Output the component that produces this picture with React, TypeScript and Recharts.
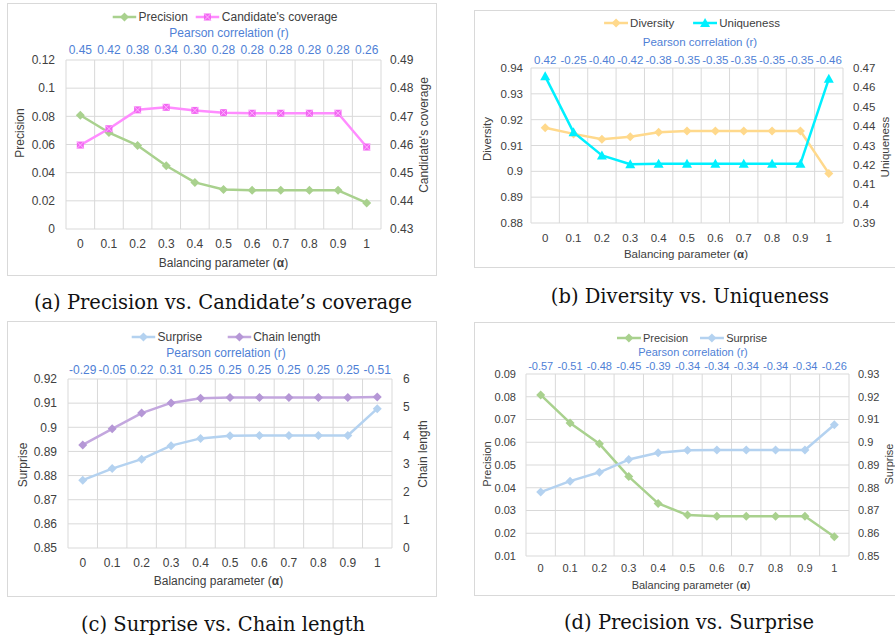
import React from 'react';
import { LineChart, Line, XAxis, YAxis, CartesianGrid, Legend } from 'recharts';

// ---------- data ----------
const ALPHA = ['0', '0.1', '0.2', '0.3', '0.4', '0.5', '0.6', '0.7', '0.8', '0.9', '1'];

const PEARSON_A = ['0.45', '0.42', '0.38', '0.34', '0.30', '0.28', '0.28', '0.28', '0.28', '0.28', '0.26'];
const PEARSON_B = ['0.42', '-0.25', '-0.40', '-0.42', '-0.38', '-0.35', '-0.35', '-0.35', '-0.35', '-0.35', '-0.46'];
const PEARSON_C = ['-0.29', '-0.05', '0.22', '0.31', '0.25', '0.25', '0.25', '0.25', '0.25', '0.25', '-0.51'];
const PEARSON_D = ['-0.57', '-0.51', '-0.48', '-0.45', '-0.39', '-0.34', '-0.34', '-0.34', '-0.34', '-0.34', '-0.26'];

const PRECISION = [0.0808, 0.0685, 0.0593, 0.0449, 0.0331, 0.028, 0.0275, 0.0275, 0.0275, 0.0275, 0.0185];
const COVERAGE = [0.4598, 0.4656, 0.4723, 0.4732, 0.4721, 0.4713, 0.4711, 0.4711, 0.4711, 0.4711, 0.4591];
const DIVERSITY = [0.9169, 0.9145, 0.9124, 0.9134, 0.9151, 0.9156, 0.9156, 0.9156, 0.9156, 0.9156, 0.8992];
const UNIQUENESS = [0.4657, 0.4368, 0.4249, 0.4203, 0.4206, 0.4206, 0.4206, 0.4206, 0.4206, 0.4206, 0.4644];
const SURPRISE = [0.8781, 0.8829, 0.8868, 0.8924, 0.8954, 0.8965, 0.8966, 0.8966, 0.8966, 0.8966, 0.9077];
const CHAIN = [3.66, 4.23, 4.79, 5.15, 5.32, 5.34, 5.34, 5.34, 5.34, 5.34, 5.36];

const TICKS_PREC_A = [0, 0.02, 0.04, 0.06, 0.08, 0.1, 0.12];
const TICKS_COV = [0.43, 0.44, 0.45, 0.46, 0.47, 0.48, 0.49];
const TICKS_DIV = [0.88, 0.89, 0.9, 0.91, 0.92, 0.93, 0.94];
const TICKS_UNIQ = [0.39, 0.4, 0.41, 0.42, 0.43, 0.44, 0.45, 0.46, 0.47];
const TICKS_SURP_C = [0.85, 0.86, 0.87, 0.88, 0.89, 0.9, 0.91, 0.92];
const TICKS_CHAIN = [0, 1, 2, 3, 4, 5, 6];
const TICKS_PREC_D = [0.01, 0.02, 0.03, 0.04, 0.05, 0.06, 0.07, 0.08, 0.09];
const TICKS_SURP_D = [0.85, 0.86, 0.87, 0.88, 0.89, 0.9, 0.91, 0.92, 0.93];

// ---------- styles ----------
const FONT = '"Liberation Sans", Arial, sans-serif';
const SERIF = '"DejaVu Serif", "Liberation Serif", serif';
const GRID = '#d9d9d9';
const TXT = '#404040';
const BLUE = '#4f7fd6';
const GREEN = '#a9d18e';
const PINK = '#ff8cff';
const PINK_M = '#f266f2';
const GOLD = '#ffd98c';
const CYAN = '#00f0ff';
const LBLUE = '#b4d2f0';
const PURPLE = '#c3a7de';
const PURPLE_M = '#b597d6';

type Shape = 'diamond' | 'square' | 'triangle';

function Marker({ shape, cx, cy, color }: { shape: Shape; cx: number; cy: number; color: string }) {
  if (cx == null || cy == null || isNaN(cx) || isNaN(cy)) return null;
  if (shape === 'diamond') {
    const r = 4.5;
    return <polygon points={`${cx},${cy - r} ${cx + r},${cy} ${cx},${cy + r} ${cx - r},${cy}`} fill={color} />;
  }
  if (shape === 'square') {
    const r = 3.5;
    return (
      <g>
        <rect x={cx - r} y={cy - r} width={2 * r} height={2 * r} fill={color} />
        <path d={`M${cx - r} ${cy - r}L${cx + r} ${cy + r}M${cx + r} ${cy - r}L${cx - r} ${cy + r}`} stroke="#ffb3ff" strokeWidth={1} />
      </g>
    );
  }
  return <polygon points={`${cx},${cy - 5} ${cx + 5},${cy + 4} ${cx - 5},${cy + 4}`} fill={color} />;
}

type Series = { key: string; name: string; values: number[]; color: string; marker: string; shape: Shape; axis: 'left' | 'right' };

type Cfg = {
  frame: { x: number; y: number; w: number; h: number };
  chartW: number;
  margin: { top: number; right: number; bottom: number; left: number };
  fs: number;
  pearson: string[];
  leftDomain: [number, number];
  leftTicks: number[];
  rightDomain: [number, number];
  rightTicks: number[];
  leftTitle: string;
  rightTitle: string;
  series: Series[];
  tm: { bottom: number; top: number; left: number; right: number };
  pos: {
    left: [number, number];
    right: [number, number];
    xTitle: [number, number];
    pTitle: [number, number];
    legend: [number, number];
  };
  legendGap: number;
  caption: string;
  captionPos: [number, number];
};

const fmt = (v: number) => String(Number(v.toFixed(4)));

function Panel({ cfg }: { cfg: Cfg }) {
  const { frame, chartW, margin, fs, pearson, series, tm, pos } = cfg;
  const data = ALPHA.map((a, i) => {
    const row: any = { alpha: a };
    series.forEach((s) => (row[s.key] = s.values[i]));
    return row;
  });

  const vTitle = (text: string, p: [number, number]) => () => (
    <text
      x={p[0]}
      y={p[1]}
      transform={`rotate(-90 ${p[0]} ${p[1]})`}
      textAnchor="middle"
      dominantBaseline="central"
      fontSize={fs}
      fill={TXT}
    >
      {text}
    </text>
  );

  const xTitle = () => (
    <text x={pos.xTitle[0]} y={pos.xTitle[1]} textAnchor="middle" dominantBaseline="central" fontSize={fs} fill={TXT}>
      Balancing parameter (<tspan fontWeight="bold">α</tspan>)
    </text>
  );

  const pTitle = () => (
    <text x={pos.pTitle[0]} y={pos.pTitle[1]} textAnchor="middle" dominantBaseline="central" fontSize={fs} fill={BLUE}>
      Pearson correlation (r)
    </text>
  );

  const legendContent = () => (
    <div style={{ position: 'relative', height: 16 }}>
      <div
        style={{
          position: 'absolute',
          left: pos.legend[0],
          top: 0,
          height: 16,
          transform: 'translateX(-50%)',
          display: 'flex',
          alignItems: 'center',
          whiteSpace: 'nowrap',
          fontSize: fs,
          color: TXT,
          fontFamily: FONT,
        }}
      >
        {series.map((s, i) => (
          <div key={s.key} style={{ display: 'flex', alignItems: 'center', marginLeft: i === 0 ? 0 : cfg.legendGap }}>
            <svg width={24} height={12} style={{ display: 'block' }}>
              <line x1={0} y1={6} x2={24} y2={6} stroke={s.color} strokeWidth={2.5} />
              <Marker shape={s.shape} cx={12} cy={6} color={s.marker} />
            </svg>
            <span style={{ marginLeft: 2 }}>{s.name}</span>
          </div>
        ))}
      </div>
    </div>
  );

  return (
    <>
      <div
        style={{
          position: 'absolute',
          left: frame.x,
          top: frame.y,
          width: frame.w,
          height: frame.h,
          border: `1px solid ${GRID}`,
          boxSizing: 'border-box',
        }}
      />
      <div style={{ position: 'absolute', left: frame.x, top: frame.y, fontFamily: FONT }}>
        <LineChart width={chartW} height={frame.h} data={data} margin={margin}>
          <CartesianGrid
            xAxisId="bottom"
            yAxisId="left"
            stroke={GRID}
            strokeWidth={1}
            verticalCoordinatesGenerator={(args: any) => {
              const o = args.offset;
              const n = ALPHA.length;
              const arr: number[] = [];
              for (let i = 0; i <= n; i++) arr.push(o.left + (i * o.width) / n);
              return arr;
            }}
          />
          <XAxis
            xAxisId="bottom"
            dataKey="alpha"
            scale="band"
            height={20}
            interval={0}
            axisLine={false}
            tickLine={false}
            tickSize={0}
            tickMargin={tm.bottom}
            tick={{ fontSize: fs, fill: TXT }}
            label={xTitle}
          />
          <XAxis
            xAxisId="top"
            orientation="top"
            dataKey="alpha"
            scale="band"
            height={20}
            interval={0}
            axisLine={false}
            tickLine={false}
            tickSize={0}
            tickMargin={tm.top}
            tick={{ fontSize: fs, fill: BLUE }}
            tickFormatter={(_v: any, i: number) => pearson[i]}
            label={pTitle}
          />
          <YAxis
            yAxisId="left"
            width={40}
            domain={cfg.leftDomain}
            ticks={cfg.leftTicks}
            interval={0}
            allowDataOverflow
            axisLine={false}
            tickLine={false}
            tickSize={0}
            tickMargin={tm.left}
            tick={{ fontSize: fs, fill: TXT }}
            tickFormatter={fmt}
            label={vTitle(cfg.leftTitle, pos.left)}
          />
          <YAxis
            yAxisId="right"
            orientation="right"
            width={40}
            domain={cfg.rightDomain}
            ticks={cfg.rightTicks}
            interval={0}
            allowDataOverflow
            axisLine={false}
            tickLine={false}
            tickSize={0}
            tickMargin={tm.right}
            tick={{ fontSize: fs, fill: TXT }}
            tickFormatter={fmt}
            label={vTitle(cfg.rightTitle, pos.right)}
          />
          <Legend
            layout="vertical"
            align="center"
            verticalAlign="middle"
            content={legendContent}
            wrapperStyle={{ top: pos.legend[1] - 8, left: 0, width: chartW, height: 16 }}
          />
          {series.map((s) => (
            <Line
              key={s.key}
              xAxisId="bottom"
              yAxisId={s.axis}
              dataKey={s.key}
              name={s.name}
              type="linear"
              stroke={s.color}
              strokeWidth={2.5}
              strokeLinejoin="round"
              isAnimationActive={false}
              activeDot={false}
              dot={(p: any) => <Marker key={`${s.key}-${p.index}`} shape={s.shape} cx={p.cx} cy={p.cy} color={s.marker} />}
            />
          ))}
        </LineChart>
      </div>
      <div
        style={{
          position: 'absolute',
          left: cfg.captionPos[0] - 250,
          top: cfg.captionPos[1] - 15,
          width: 500,
          height: 30,
          lineHeight: '30px',
          textAlign: 'center',
          fontFamily: SERIF,
          fontSize: 19.5,
          color: '#111',
          whiteSpace: 'nowrap',
        }}
      >
        {cfg.caption}
      </div>
    </>
  );
}

const PANEL_A: Cfg = {
  frame: { x: 7, y: 3, w: 430, h: 273 },
  chartW: 430,
  margin: { top: 37, right: 16, bottom: 27, left: 19 },
  fs: 12,
  pearson: PEARSON_A,
  leftDomain: [0, 0.12],
  leftTicks: TICKS_PREC_A,
  rightDomain: [0.43, 0.49],
  rightTicks: TICKS_COV,
  leftTitle: 'Precision',
  rightTitle: "Candidate's coverage",
  series: [
    { key: 'precision', name: 'Precision', values: PRECISION, color: GREEN, marker: GREEN, shape: 'diamond', axis: 'left' },
    { key: 'coverage', name: "Candidate's coverage", values: COVERAGE, color: PINK, marker: PINK_M, shape: 'square', axis: 'right' },
  ],
  tm: { bottom: 10, top: 6, left: 11, right: 9 },
  pos: { left: [13, 130], right: [417, 132], xTitle: [216.5, 260], pTitle: [222, 30], legend: [218, 14] },
  legendGap: 8,
  caption: '(a) Precision vs. Candidate’s coverage',
  captionPos: [223, 303],
};

const PANEL_B: Cfg = {
  frame: { x: 474, y: 10, w: 425, h: 258 },
  chartW: 421,
  margin: { top: 38, right: 12, bottom: 25, left: 17 },
  fs: 11.5,
  pearson: PEARSON_B,
  leftDomain: [0.88, 0.94],
  leftTicks: TICKS_DIV,
  rightDomain: [0.39, 0.47],
  rightTicks: TICKS_UNIQ,
  leftTitle: 'Diversity',
  rightTitle: 'Uniqueness',
  series: [
    { key: 'diversity', name: 'Diversity', values: DIVERSITY, color: GOLD, marker: GOLD, shape: 'diamond', axis: 'left' },
    { key: 'uniqueness', name: 'Uniqueness', values: UNIQUENESS, color: CYAN, marker: CYAN, shape: 'triangle', axis: 'right' },
  ],
  tm: { bottom: 11, top: 4, left: 8, right: 10 },
  pos: { left: [13, 129], right: [411, 137], xTitle: [212, 244], pTitle: [226, 32], legend: [218, 13] },
  legendGap: 19,
  caption: '(b) Diversity vs. Uniqueness',
  captionPos: [690, 297],
};

const PANEL_C: Cfg = {
  frame: { x: 7, y: 321, w: 430, h: 276 },
  chartW: 430,
  margin: { top: 38, right: 5, bottom: 29, left: 21 },
  fs: 12,
  pearson: PEARSON_C,
  leftDomain: [0.85, 0.92],
  leftTicks: TICKS_SURP_C,
  rightDomain: [0, 6],
  rightTicks: TICKS_CHAIN,
  leftTitle: 'Surprise',
  rightTitle: 'Chain length',
  series: [
    { key: 'surprise', name: 'Surprise', values: SURPRISE, color: LBLUE, marker: LBLUE, shape: 'diamond', axis: 'left' },
    { key: 'chain', name: 'Chain length', values: CHAIN, color: PURPLE, marker: PURPLE_M, shape: 'diamond', axis: 'right' },
  ],
  tm: { bottom: 10, top: 5, left: 11, right: 11 },
  pos: { left: [16, 144], right: [416, 133], xTitle: [211.5, 260], pTitle: [219, 32], legend: [219, 16] },
  legendGap: 25,
  caption: '(c) Surprise vs. Chain length',
  captionPos: [223, 625],
};

const PANEL_D: Cfg = {
  frame: { x: 474, y: 322, w: 425, h: 274 },
  chartW: 421,
  margin: { top: 32, right: 6, bottom: 20, left: 12 },
  fs: 11,
  pearson: PEARSON_D,
  leftDomain: [0.01, 0.09],
  leftTicks: TICKS_PREC_D,
  rightDomain: [0.85, 0.93],
  rightTicks: TICKS_SURP_D,
  leftTitle: 'Precision',
  rightTitle: 'Surprise',
  series: [
    { key: 'precision', name: 'Precision', values: PRECISION, color: GREEN, marker: GREEN, shape: 'diamond', axis: 'left' },
    { key: 'surprise', name: 'Surprise', values: SURPRISE, color: LBLUE, marker: LBLUE, shape: 'diamond', axis: 'right' },
  ],
  tm: { bottom: 8, top: 4, left: 10, right: 9 },
  pos: { left: [13, 142], right: [415, 142], xTitle: [217, 263], pTitle: [219, 30], legend: [218, 16] },
  legendGap: 12,
  caption: '(d) Precision vs. Surprise',
  captionPos: [689, 623],
};

export default function App() {
  return (
    <div
      style={{
        position: 'absolute',
        left: 0,
        top: 0,
        width: 895,
        height: 644,
        background: '#fff',
        overflow: 'hidden',
      }}
    >
      <Panel cfg={PANEL_A} />
      <Panel cfg={PANEL_B} />
      <Panel cfg={PANEL_C} />
      <Panel cfg={PANEL_D} />
    </div>
  );
}
